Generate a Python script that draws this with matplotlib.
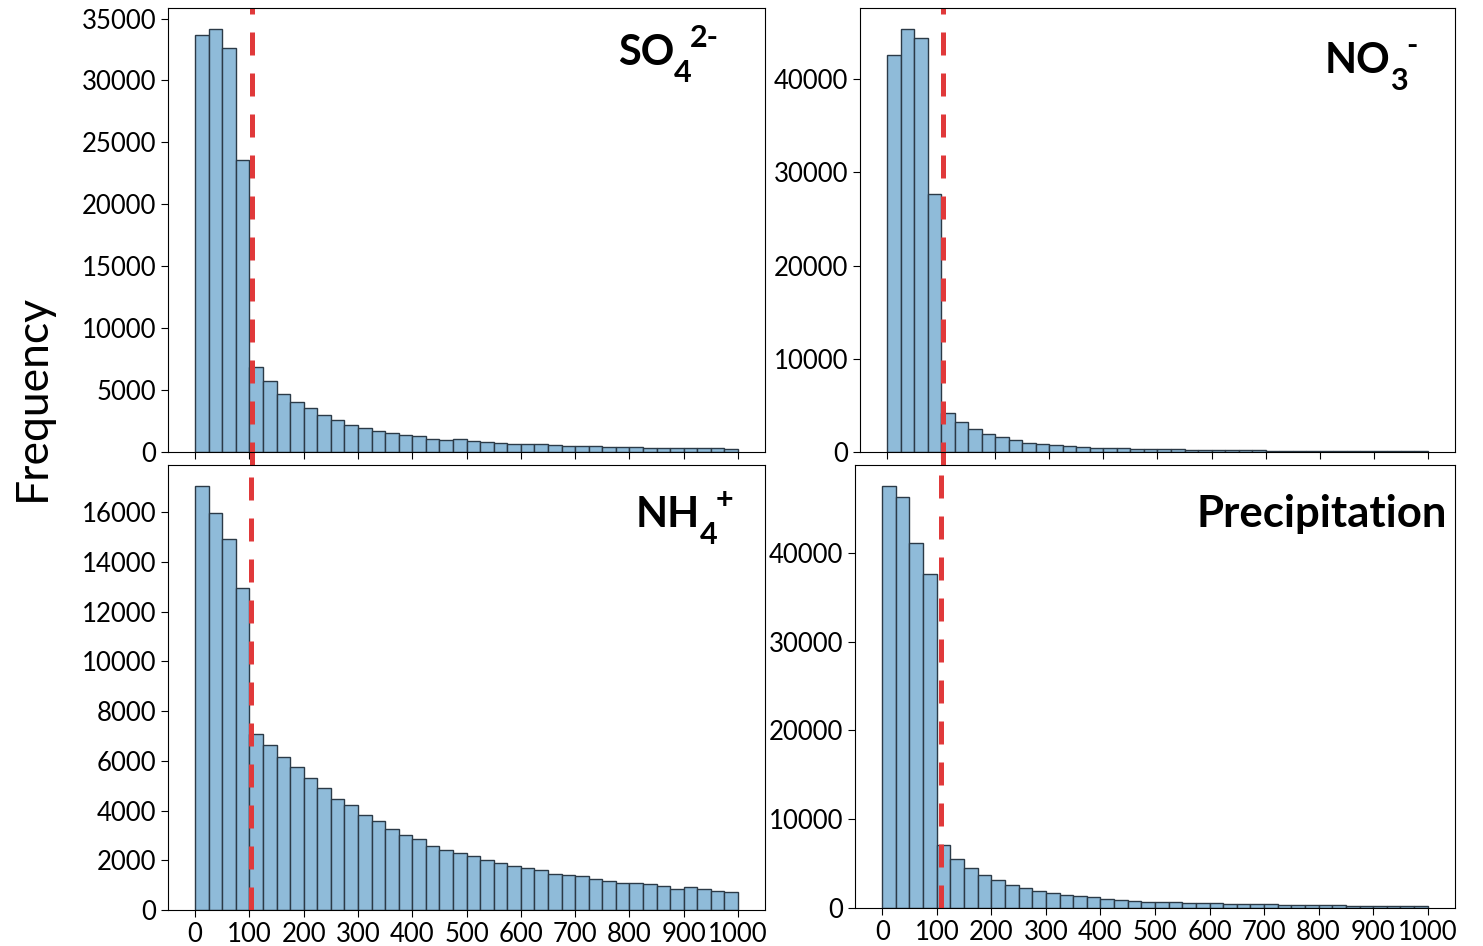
import numpy as np
import matplotlib
matplotlib.use('Agg')
import matplotlib.pyplot as plt
from matplotlib.ticker import MultipleLocator

plt.rcParams['font.family'] = ['Lato', 'DejaVu Sans']

# 40 bins of width 25 between 0 and 1000
bin_edges = np.arange(0, 1001, 25)

so4_counts = [33710, 34140, 32660, 23600, 6855, 5750, 4700, 4005, 3520, 3010,
              2610, 2200, 1960, 1720, 1560, 1345, 1265, 1075, 970, 1020,
              890, 780, 750, 670, 645, 645, 540, 480, 480, 455,
              430, 400, 375, 350, 320, 320, 295, 295, 295, 240]
no3_counts = [42570, 45360, 44460, 27680, 4180, 3180, 2430, 1890, 1610, 1250,
              1000, 820, 715, 610, 535, 465, 430, 390, 355, 320,
              285, 285, 260, 240, 220, 200, 185, 170, 155, 145,
              135, 125, 115, 105, 100, 95, 90, 85, 80, 75]
nh4_counts = [17050, 15960, 14930, 12970, 7075, 6645, 6135, 5760, 5290, 4915,
              4445, 4215, 3825, 3585, 3275, 3005, 2845, 2565, 2415, 2310,
              2190, 2025, 1890, 1785, 1690, 1595, 1435, 1410, 1370, 1260,
              1155, 1085, 1100, 1045, 980, 860, 925, 845, 780, 710]
prec_counts = [47530, 46250, 41090, 37600, 7040, 5540, 4460, 3670, 3110, 2550,
               2210, 1950, 1720, 1500, 1350, 1200, 1010, 860, 790, 710,
               675, 710, 600, 560, 525, 490, 450, 450, 410, 375,
               375, 340, 300, 300, 260, 225, 225, 225, 225, 190]

# (main text, subscript, superscript)
labels = [('SO', '4', '2-'), ('NO', '3', '-'), ('NH', '4', '+'),
          ('Precipitation', '', '')]
y_steps = [5000, 10000, 2000, 10000]
threshold_x = [104, 103, 102, 107]

fig = plt.figure(figsize=(14.83, 9.46), dpi=100)
positions = [[0.1133, 0.5222, 0.4026, 0.4693],
             [0.5799, 0.5222, 0.4012, 0.4693],
             [0.1133, 0.0381, 0.4026, 0.4704],
             [0.5765, 0.0402, 0.4046, 0.4683]]
label_pos = [(0.754, 0.872), (0.7815, 0.854), (0.784, 0.861), (0.987, 0.86)]
all_counts = [so4_counts, no3_counts, nh4_counts, prec_counts]

renderer = fig.canvas.get_renderer()
for i, counts in enumerate(all_counts):
    ax = fig.add_axes(positions[i])
    ax.hist(bin_edges[:-1], bins=bin_edges, weights=counts,
            facecolor='#8fbbd9', edgecolor='#2b3a47', linewidth=1)
    ax.axvline(threshold_x[i], ymin=-0.03 if i < 2 else 0, color='#e0393a',
               linewidth=3.6, linestyle=(0, (4.6, 3.6)), clip_on=False)
    ax.set_xticks(np.arange(0, 1001, 100))
    ax.yaxis.set_major_locator(MultipleLocator(y_steps[i]))
    if i < 2:
        ax.tick_params(axis='x', labelbottom=False)
    ax.tick_params(labelsize=18.5, length=5)

    main, sub, sup = labels[i]
    if not sub:
        ax.text(label_pos[i][0], label_pos[i][1], main, transform=ax.transAxes,
                ha='right', va='baseline', fontsize=31.5, fontweight='bold')
        continue
    t = ax.text(label_pos[i][0], label_pos[i][1], main, transform=ax.transAxes,
                ha='left', va='baseline', fontsize=30, fontweight='bold')
    bb = t.get_window_extent(renderer)
    x0, y0 = ax.transAxes.transform(label_pos[i])
    inv = ax.transAxes.inverted()
    ts = ax.text(*inv.transform((bb.x1 - 1, y0 - 17)), sub, transform=ax.transAxes,
                 ha='left', va='baseline', fontsize=22, fontweight='bold')
    bs = ts.get_window_extent(renderer)
    ax.text(*inv.transform((bs.x1 - 1, y0 + 18)), sup, transform=ax.transAxes,
            ha='left', va='baseline', fontsize=22, fontweight='bold')

fig.text(0.0216, 0.58, 'Frequency', rotation=90, ha='center', va='center',
         fontsize=32)

plt.savefig('out.png', dpi=100)
